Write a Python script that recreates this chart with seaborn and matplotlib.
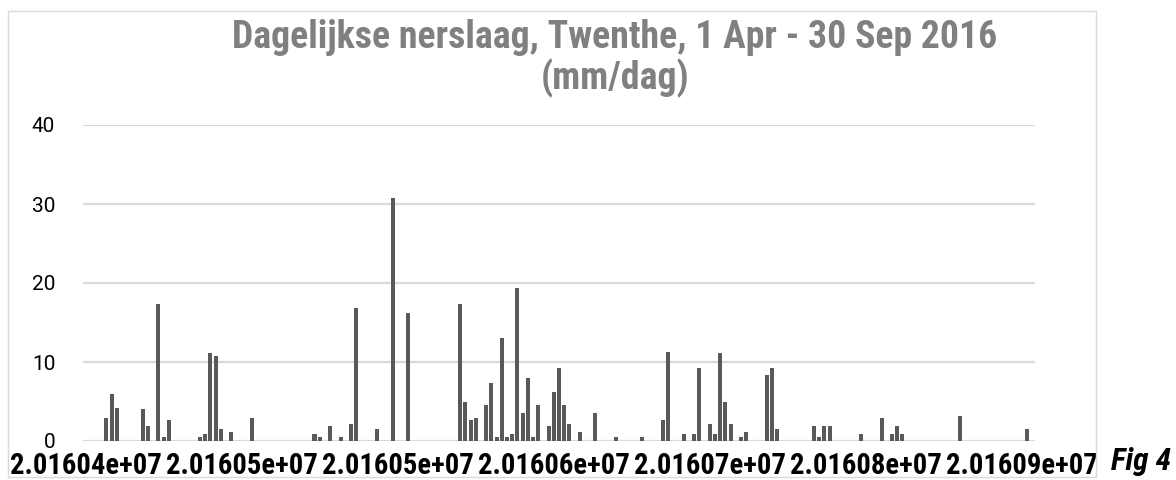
import numpy as np
import pandas as pd
import matplotlib
matplotlib.use("Agg")
import matplotlib.pyplot as plt
import seaborn as sns
from matplotlib import font_manager
from matplotlib.patches import Rectangle

# ---- data (mm/day), 1 Apr - 30 Sep 2016 ----
april = [0, 0, 0, 0, 2.9, 6.0, 4.2, 0, 0, 0, 0, 4.0, 1.9, 0, 17.4, 0.5, 2.6, 0, 0, 0,
         0, 0, 0.5, 0.9, 11.1, 10.7, 1.5, 0, 1.2, 0]
may = [0, 0, 2.9, 0, 0, 0, 0, 0, 0, 0, 0, 0, 0, 0, 0.9, 0.5, 0, 1.9, 0, 0.5,
       0, 2.2, 16.8, 0, 0, 0, 1.5, 0, 0, 30.8, 0]
june = [0, 16.2, 0, 0, 0, 0, 0, 0, 0, 0, 0, 17.4, 5.0, 2.6, 2.9, 0, 4.6, 7.3, 0.5, 13.1,
        0.5, 0.9, 19.4, 3.6, 8.0, 0.5, 4.6, 0, 1.9, 6.2]
july = [9.3, 4.6, 2.2, 0, 1.2, 0, 0, 3.6, 0, 0, 0, 0.5, 0, 0, 0, 0, 0.5, 0, 0, 0,
        2.6, 11.3, 0, 0, 0.9, 0, 0.9, 9.3, 0, 2.2, 0.9]
august = [11.1, 5.0, 2.2, 0, 0.5, 1.2, 0, 0, 0, 8.3, 9.3, 1.5, 0, 0, 0, 0, 0, 0, 1.9, 0.5,
          1.9, 1.9, 0, 0, 0, 0, 0, 0.9, 0, 0, 0]
september = [2.9, 0, 0.9, 1.9, 0.9, 0, 0, 0, 0, 0, 0, 0, 0, 0, 0, 3.2, 0, 0, 0, 0,
             0, 0, 0, 0, 0, 0, 0, 0, 1.5, 0]

dates = pd.date_range("2016-04-01", "2016-09-30", freq="D")
date_codes = [int(d.strftime("%Y%m%d")) for d in dates]
precip = april + may + june + july + august + september

xtick_labels = ["2.01604e+07", "2.01605e+07", "2.01605e+07", "2.01606e+07",
                "2.01607e+07", "2.01608e+07", "2.01609e+07"]
ytick_values = [0, 10, 20, 30, 40]
title_lines = ["Dagelijkse nerslaag, Twenthe, 1 Apr - 30 Sep 2016", "(mm/dag)"]
fig_label = "Fig 4"

df = pd.DataFrame({"datum": date_codes, "neerslag": precip})

# ---- style ----
sns.set_theme(style="white")

# pick the narrowest sans available
fonts = font_manager.fontManager.ttflist
names = {f.name for f in fonts}
family, stretch = None, "normal"
for cand in ["Roboto Condensed", "Liberation Sans Narrow", "Open Sans Condensed"]:
    if cand in names:
        family = cand
        break
if family is None:
    cond = [f for f in fonts if f.name == "DejaVu Sans" and "ondensed" in str(f.stretch)]
    if cond or any("DejaVuSansCondensed" in f.fname for f in fonts):
        family, stretch = "DejaVu Sans", "condensed"
if family is None:
    family = "Roboto" if "Roboto" in names else "DejaVu Sans"
plt.rcParams["font.family"] = [family, "DejaVu Sans"]
plt.rcParams["font.stretch"] = stretch
plain = "Roboto" if "Roboto" in names else "DejaVu Sans"

W, H = 1176, 480
fig = plt.figure(figsize=(W / 100, H / 100), dpi=100)
fig.patch.set_facecolor("white")
ax = fig.add_axes([83 / W, 39 / H, 952 / W, 316 / H])

sns.barplot(data=df, x="datum", y="neerslag", order=date_codes, color="#595959",
            saturation=1, width=0.77, linewidth=0, ax=ax, errorbar=None)

ax.set_xlim(-0.5, len(date_codes) - 0.5)
ax.set_ylim(0, 40)
ax.set_yticks(ytick_values)
ax.set_yticklabels([str(v) for v in ytick_values], fontsize=15, color="black",
                   family=[plain, "DejaVu Sans"])
tick_pos = list(range(0, len(date_codes), 30))
ax.set_xticks(tick_pos)
ax.set_xticklabels(xtick_labels, fontsize=15, fontweight="bold", color="black")
ax.tick_params(axis="both", length=0)
ax.tick_params(axis="y", pad=20)
ax.tick_params(axis="x", pad=8)
ax.set_xlabel("")
ax.set_ylabel("")
ax.yaxis.grid(True, color="#d9d9d9", linewidth=1.6)
ax.xaxis.grid(False)
ax.set_axisbelow(True)
for s in ax.spines.values():
    s.set_visible(False)

t1 = fig.text(615 / W, 1 - 37 / H, title_lines[0], ha="center", va="center",
              fontsize=24, fontweight="bold", color="#808080")
t2 = fig.text(615 / W, 1 - 78 / H, title_lines[1], ha="center", va="center",
              fontsize=24, fontweight="bold", color="#808080")
ft = fig.text(1141 / W, 1 - 462 / H, fig_label, ha="center", va="center",
              fontsize=18, fontweight="bold", fontstyle="italic", color="black")

# scale fonts to the widths seen in the reference
fig.canvas.draw()
r = fig.canvas.get_renderer()
w1 = t1.get_window_extent(r).width
scale = 766 / w1
t1.set_fontsize(24 * scale)
t2.set_fontsize(24 * scale)
wl = ax.get_xticklabels()[0].get_window_extent(r).width
for l in ax.get_xticklabels():
    l.set_fontsize(15 * 152 / wl)
wf = ft.get_window_extent(r).width
ft.set_fontsize(18 * 60 / wf)

fig.add_artist(Rectangle((8 / W, 3 / H), 1088 / W, 466 / H, transform=fig.transFigure,
                         fill=False, edgecolor="#d9d9d9", linewidth=1))

fig.savefig("out.png", dpi=100)
